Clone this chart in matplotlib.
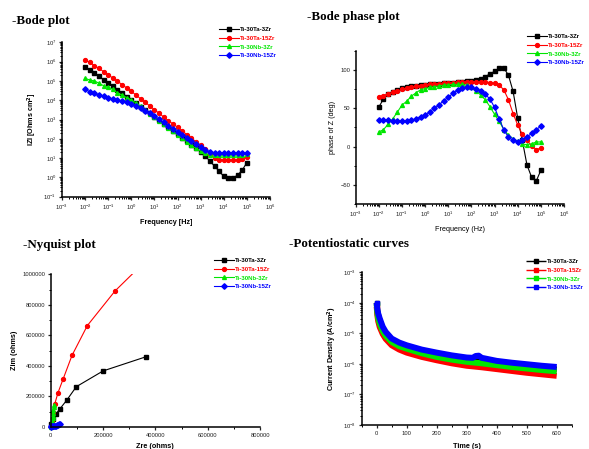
from matplotlib import pyplot as plt
from matplotlib.ticker import MultipleLocator, LogLocator, NullFormatter, FuncFormatter
import numpy as np

LABELS = ["Ti-30Ta-3Zr", "Ti-30Ta-15Zr", "Ti-30Nb-3Zr", "Ti-30Nb-15Zr"]
COLORS = ["#000000", "#ff0000", "#00e600", "#0000ff"]
MARKERS = ["s", "o", "^", "D"]

# Frequencies of the EIS sweep (Hz)
FREQ = [0.01, 0.0158, 0.0251, 0.0398, 0.0631, 0.1, 0.158, 0.251, 0.398, 0.631,
        1, 1.58, 2.51, 3.98, 6.31, 10, 15.8, 25.1, 39.8, 63.1,
        100, 158, 251, 398, 631, 1000, 1580, 2510, 3980, 6310,
        10000, 15800, 25100, 39800, 63100, 100000]

# log10 |Z|
BLACK_LOGZ = [5.74, 5.57, 5.40, 5.23, 5.06, 4.90, 4.72, 4.55, 4.37, 4.19,
              4.01, 3.84, 3.66, 3.49, 3.32, 3.14, 2.96, 2.78, 2.60, 2.42,
              2.24, 2.06, 1.88, 1.70, 1.52, 1.33, 1.10, 0.85, 0.58, 0.32,
              0.05, -0.05, -0.03, 0.12, 0.38, 0.77]
RED_LOGZ = [6.08, 5.96, 5.79, 5.65, 5.48, 5.31, 5.15, 4.98, 4.81, 4.63,
            4.46, 4.27, 4.08, 3.89, 3.70, 3.51, 3.32, 3.13, 2.94, 2.77,
            2.60, 2.41, 2.22, 2.03, 1.85, 1.66, 1.49, 1.20, 1.01, 0.92,
            0.89, 0.89, 0.89, 0.90, 0.95, 1.08]
GREEN_LOGZ = [5.13, 5.05, 5.00, 4.88, 4.75, 4.67, 4.56, 4.37, 4.27, 4.13,
              4.02, 3.86, 3.68, 3.50, 3.31, 3.12, 2.94, 2.76, 2.57, 2.39,
              2.20, 2.02, 1.84, 1.66, 1.50, 1.36, 1.24, 1.17, 1.15, 1.15,
              1.15, 1.15, 1.15, 1.16, 1.17, 1.20]
BLUE_LOGZ = [4.56, 4.44, 4.36, 4.27, 4.20, 4.13, 4.05, 4.01, 3.96, 3.89,
             3.82, 3.72, 3.61, 3.46, 3.32, 3.17, 3.01, 2.86, 2.68, 2.53,
             2.37, 2.22, 2.06, 1.90, 1.73, 1.58, 1.40, 1.32, 1.28, 1.28,
             1.28, 1.28, 1.28, 1.27, 1.27, 1.25]

# phase of Z (deg)
BLACK_PHASE = [51.5, 62, 69, 71, 74, 76, 77.5, 78.5, 79.5, 80,
               80.5, 81, 81.5, 82, 82.5, 83, 83.5, 84, 84.5, 85,
               85.5, 87, 88.5, 91, 95, 98, 102, 102.5, 93, 72,
               37, 8, -24, -40, -45, -31]
RED_PHASE = [65, 66.5, 69, 70.5, 72, 74.5, 76, 77.5, 78.5, 79.5,
             80.5, 81, 81.5, 82, 82.5, 83, 83.5, 84, 84, 84.5,
             84.5, 84.5, 84.5, 84, 83.5, 82.5, 80, 74, 61, 43,
             28, 16, 8, 1, -4, -2]
GREEN_PHASE = [19, 22, 29, 36, 45, 54, 59, 65.5, 70, 74,
               75.5, 77, 78, 79, 80, 80.5, 81, 81, 81, 80,
               78, 73, 67, 61, 52, 42, 33, 22, 15, 10,
               7, 3, 2.5, 3.5, 6, 6]
BLUE_PHASE = [35, 34.5, 34, 33.5, 33, 33, 33, 34.5, 36, 39,
              41, 45.5, 50, 54, 60, 64, 69.5, 74, 76.5, 77,
              77, 75.5, 73, 68, 62, 51, 36, 22, 12, 8,
              6.5, 8, 12.5, 17, 22, 26.5]

# Nyquist (ohms)
BLACK_ZRE = [3000, 9000, 19000, 35700, 61000, 98000, 200000, 365600]
BLACK_ZIM = [20000, 55000, 83000, 120000, 175000, 264000, 367000, 460700]
RED_ZRE = [4000, 9000, 15300, 28000, 47000, 81500, 140000, 246000, 430000]
RED_ZIM = [40000, 95000, 150000, 225000, 312000, 469000, 664000, 891000, 1200000]
GREEN_ZRE = [2500, 4000, 5000, 6000, 7000, 8000, 9000, 10000, 11000, 12000]
GREEN_ZIM = [3000, 12000, 25000, 40000, 58000, 75000, 92000, 110000, 128000, 145000]
BLUE_ZRE = [1500, 3000, 5000, 8000, 11000, 15000, 19000, 23000, 27000, 31000, 34000]
BLUE_ZIM = [2000, 3500, 5000, 6000, 7000, 8000, 9500, 11000, 13500, 16500, 19500]

# Potentiostatic: time (s) and log10 current density (A/cm2)
TIME = [0, 2, 5, 10, 20, 30, 50, 75, 100, 150, 200, 250, 300, 320, 330, 340, 350,
        400, 450, 500, 550, 600]
BLACK_LOGI = [-4.0, -4.25, -4.4, -4.58, -4.85, -5.02, -5.24, -5.38, -5.46, -5.6, -5.7,
              -5.79, -5.86, -5.87, -5.82, -5.82, -5.87, -5.98, -6.05, -6.1, -6.14, -6.18]
RED_LOGI = [-4.13, -4.4, -4.6, -4.79, -5.02, -5.18, -5.39, -5.53, -5.63, -5.77, -5.88,
            -5.98, -6.06, -6.08, -6.09, -6.1, -6.11, -6.17, -6.23, -6.29, -6.34, -6.39]
GREEN_LOGI = [-4.05, -4.3, -4.5, -4.68, -4.92, -5.08, -5.28, -5.42, -5.5, -5.65, -5.77,
              -5.86, -5.93, -5.95, -5.96, -5.97, -5.98, -6.04, -6.1, -6.15, -6.2, -6.24]
BLUE_LOGI = [-4.0, -4.2, -4.35, -4.51, -4.78, -4.95, -5.17, -5.3, -5.39, -5.53, -5.63,
             -5.72, -5.79, -5.8, -5.74, -5.73, -5.8, -5.9, -5.96, -6.01, -6.06, -6.1]

W, H = 589, 449
TICK_FS = 4.2
LABEL_FS = 5.2
LEG_FS = 4.4

plt.rcParams['font.family'] = ['Liberation Sans', 'DejaVu Sans']
fig = plt.figure(figsize=(W / 100, H / 100), dpi=100)


def add_axes(left, top, right, bottom):
    # pixel box -> figure fraction
    ax = fig.add_axes([left / W, 1 - bottom / H, (right - left) / W, (bottom - top) / H])
    for side in ["top", "right"]:
        ax.spines[side].set_visible(False)
    for side in ["left", "bottom"]:
        ax.spines[side].set_linewidth(1.1)
    ax.tick_params(which="major", direction="out", length=2.5, width=0.9,
                   labelsize=TICK_FS, pad=1.5, colors="#222222")
    ax.tick_params(which="minor", direction="out", length=1.5, width=0.7)
    return ax


def add_legend(ax, x, y):
    leg = ax.legend(loc="upper left", bbox_to_anchor=(x / W, 1 - y / H),
                    bbox_transform=fig.transFigure, frameon=False,
                    handlelength=3.2, handletextpad=0.3, labelspacing=0.55,
                    borderpad=0, borderaxespad=0, labelcolor="linecolor",
                    prop={"weight": "bold", "size": LEG_FS})
    return leg


def title(x, y, text):
    fig.text(x / W, 1 - y / H, text, fontsize=9.4, fontweight="bold",
             family="Liberation Serif", va="center", ha="left")


def log_axis(axis):
    axis.set_major_locator(LogLocator(base=10, numticks=20))
    axis.set_minor_locator(LogLocator(base=10, subs=np.arange(2, 10), numticks=20))
    axis.set_minor_formatter(NullFormatter())


# Bode |Z|
ax1 = add_axes(62, 42.3, 270, 196.7)
for logz, c, m, lab in zip([BLACK_LOGZ, RED_LOGZ, GREEN_LOGZ, BLUE_LOGZ], COLORS, MARKERS, LABELS):
    ax1.plot(FREQ, 10 ** np.array(logz), color=c, marker=m, markersize=2.8, lw=0.8, label=lab)
ax1.set_xscale("log")
ax1.set_yscale("log")
ax1.set_xlim(1e-3, 1e6)
ax1.set_ylim(1e-1, 1e7)
log_axis(ax1.xaxis)
log_axis(ax1.yaxis)
ax1.set_xlabel("Frequency [Hz]", fontsize=LABEL_FS, fontweight="bold", labelpad=5)
ax1.set_ylabel("IZI [Ohms cm$^\\mathbf{2}$]", fontsize=LABEL_FS, fontweight="bold", labelpad=3)
add_legend(ax1, 219, 27)
title(12, 21, "-Bode plot")

# Bode phase
ax2 = add_axes(355.7, 50.7, 564, 204)
for ph, c, m, lab in zip([BLACK_PHASE, RED_PHASE, GREEN_PHASE, BLUE_PHASE], COLORS, MARKERS, LABELS):
    ax2.plot(FREQ, ph, color=c, marker=m, markersize=2.8, lw=0.8, label=lab)
ax2.set_xscale("log")
ax2.set_xlim(1e-3, 1e6)
ax2.set_ylim(-75, 125)
log_axis(ax2.xaxis)
ax2.yaxis.set_major_locator(MultipleLocator(50))
ax2.yaxis.set_minor_locator(MultipleLocator(25))
ax2.set_xlabel("Frequency (Hz)", fontsize=LABEL_FS, labelpad=5)
ax2.set_ylabel("phase of Z (deg)", fontsize=LABEL_FS, labelpad=3)
add_legend(ax2, 527, 34)
title(307, 17, "-Bode phase plot")

# Nyquist
ax3 = add_axes(50.7, 274.3, 260, 427)
nyq = [(BLACK_ZRE, BLACK_ZIM), (RED_ZRE, RED_ZIM), (GREEN_ZRE, GREEN_ZIM), (BLUE_ZRE, BLUE_ZIM)]
for (zr, zi), c, m, lab in zip(nyq, COLORS, MARKERS, LABELS):
    ax3.plot(zr, zi, color=c, marker=m, markersize=2.8, lw=0.8, label=lab,
             clip_on=(c == "#ff0000"))
ax3.set_xlim(0, 800000)
ax3.set_ylim(0, 1000000)
plain = FuncFormatter(lambda v, pos: "{:d}".format(int(round(v))))
ax3.xaxis.set_major_locator(MultipleLocator(200000))
ax3.xaxis.set_minor_locator(MultipleLocator(100000))
ax3.yaxis.set_major_locator(MultipleLocator(200000))
ax3.yaxis.set_minor_locator(MultipleLocator(100000))
ax3.xaxis.set_major_formatter(plain)
ax3.yaxis.set_major_formatter(plain)
ax3.set_xlabel("Zre (ohms)", fontsize=LABEL_FS, fontweight="bold", labelpad=4)
ax3.set_ylabel("Zim (ohms)", fontsize=LABEL_FS, fontweight="bold", labelpad=3)
add_legend(ax3, 214, 258)
title(23, 245, "-Nyquist plot")

# Potentiostatic - blue drawn on top, black mostly hidden like the original
ax4 = add_axes(361.7, 272.3, 571.7, 425)
for logi, c, lab, z in zip([BLACK_LOGI, RED_LOGI, GREEN_LOGI, BLUE_LOGI], COLORS, LABELS, [2, 3, 4, 5]):
    ax4.plot(TIME, 10 ** np.array(logi), color=c, lw=4.3, marker="s", markersize=2.4,
             markevery=[0], label=lab, zorder=z, solid_capstyle="butt")
ax4.set_yscale("log")
ax4.set_xlim(-50, 650)
ax4.set_ylim(1e-8, 1e-3)
log_axis(ax4.yaxis)
ax4.xaxis.set_major_locator(MultipleLocator(100))
ax4.xaxis.set_minor_locator(MultipleLocator(50))
ax4.set_xlabel("Time (s)", fontsize=LABEL_FS, fontweight="bold", labelpad=5)
ax4.set_ylabel("Current Density (A/cm$^\\mathbf{2}$)", fontsize=LABEL_FS, fontweight="bold", labelpad=3)
leg = add_legend(ax4, 526, 259)
for line in leg.get_lines():
    line.set_linewidth(1.0)
title(289, 244, "-Potentiostatic curves")

fig.savefig("out.png", dpi=100)
